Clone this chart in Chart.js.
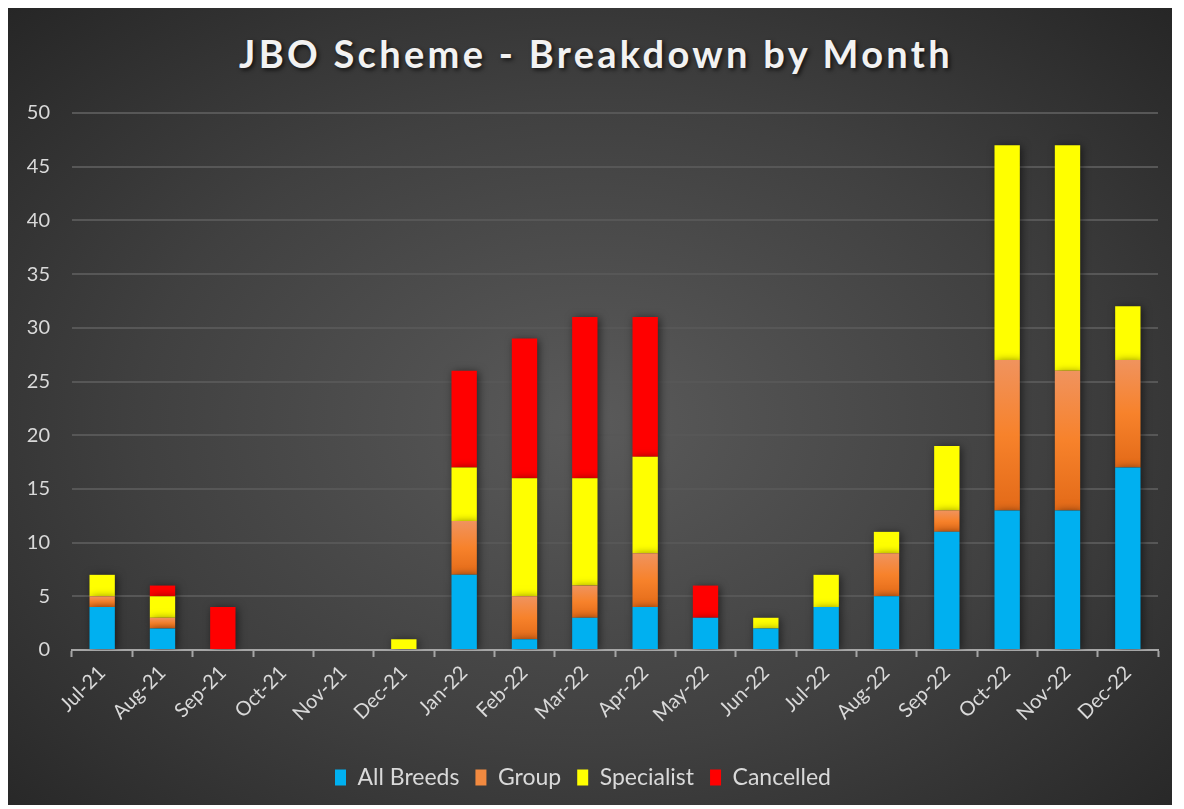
<!DOCTYPE html>
<html lang="en">
<head>
  <meta charset="UTF-8" />
  <title>JBO Scheme - Breakdown by Month</title>
  <script src="https://cdn.jsdelivr.net/npm/chart.js"></script>
  <style>
    body {
      margin: 0;
      background: #ffffff;
      font-family: Lato, 'Open Sans', sans-serif;
    }

    .card {
      position: absolute;
      left: 8px;
      top: 8px;
      width: 1164px;
      height: 797px;
      background: radial-gradient(ellipse at 50% 52%, #5a5a5a 0%, #404040 55%, #262626 100%);
    }

    .card h1 {
      position: absolute;
      left: 12px;
      right: 0;
      top: 22px;
      margin: 0;
      text-align: center;
      font-family: Lato, sans-serif;
      font-weight: bold;
      font-size: 38px;
      letter-spacing: 3.3px;
      color: #f2f2f2;
      text-shadow: 2px 2px 4px rgba(0, 0, 0, 0.7);
    }

    canvas {
      position: absolute;
      left: 0;
      top: 0;
    }
  </style>
</head>
<body>
  <div class="card">
    <h1>JBO Scheme - Breakdown by Month</h1>
    <canvas id="jboChart" width="1164" height="797"></canvas>
  </div>

  <script>
    const months = ['Jul-21', 'Aug-21', 'Sep-21', 'Oct-21', 'Nov-21', 'Dec-21',
      'Jan-22', 'Feb-22', 'Mar-22', 'Apr-22', 'May-22', 'Jun-22',
      'Jul-22', 'Aug-22', 'Sep-22', 'Oct-22', 'Nov-22', 'Dec-22'];
    const allBreeds  = [4, 2, 0, 0, 0, 0, 7, 1, 3, 4, 3, 2, 4, 5, 11, 13, 13, 17];
    const group      = [1, 1, 0, 0, 0, 0, 5, 4, 3, 5, 0, 0, 0, 4, 2, 14, 13, 10];
    const specialist = [2, 2, 0, 0, 0, 1, 5, 11, 10, 9, 0, 1, 3, 2, 6, 20, 21, 5];
    const cancelled  = [0, 1, 4, 0, 0, 0, 9, 13, 15, 13, 3, 0, 0, 0, 0, 0, 0, 0];

    // orange bars get a vertical gradient, light at the top
    function groupFill(ctx) {
      const chart = ctx.chart;
      if (ctx.type !== 'data' || !chart.chartArea) return '#f5822a';
      const y = chart.scales.y;
      const i = ctx.dataIndex;
      const top = y.getPixelForValue(allBreeds[i] + group[i]);
      const bottom = y.getPixelForValue(allBreeds[i]);
      if (!isFinite(top) || top === bottom) return '#f5822a';
      const g = chart.ctx.createLinearGradient(0, top, 0, bottom);
      g.addColorStop(0, '#f0935e');
      g.addColorStop(0.5, '#f7822b');
      g.addColorStop(1, '#e36a18');
      return g;
    }

    const barShadow = {
      id: 'barShadow',
      beforeDatasetsDraw(chart) {
        const c = chart.ctx;
        c.save();
        c.shadowColor = 'rgba(0, 0, 0, 0.55)';
        c.shadowBlur = 8;
        c.shadowOffsetX = 2;
        c.shadowOffsetY = 1;
      },
      afterDatasetsDraw(chart) {
        chart.ctx.restore();
      }
    };

    const common = { barPercentage: 0.42, categoryPercentage: 1, borderWidth: 0 };

    new Chart(document.getElementById('jboChart'), {
      type: 'bar',
      data: {
        labels: months,
        datasets: [
          { label: 'All Breeds', data: allBreeds, backgroundColor: '#00b0f0', ...common },
          { label: 'Group', data: group, backgroundColor: groupFill, ...common },
          { label: 'Specialist', data: specialist, backgroundColor: '#ffff00', ...common },
          { label: 'Cancelled', data: cancelled, backgroundColor: '#ff0000', ...common }
        ]
      },
      options: {
        responsive: false,
        animation: false,
        layout: { padding: { top: 105, right: 14, left: 0, bottom: 6 } },
        scales: {
          x: {
            stacked: true,
            grid: {
              offset: true,
              drawOnChartArea: false,
              drawTicks: true,
              tickLength: 7,
              tickWidth: 2,
              tickColor: '#a6a6a6'
            },
            border: { color: '#a6a6a6', width: 2 },
            ticks: {
              color: '#d9d9d9',
              font: { family: 'Lato', size: 20 },
              minRotation: 45,
              maxRotation: 45,
              padding: 4
            },
            afterFit(scale) { scale.height = 100; }
          },
          y: {
            stacked: true,
            min: 0,
            max: 50,
            ticks: {
              stepSize: 5,
              color: '#d9d9d9',
              font: { family: 'Lato', size: 20 },
              padding: 22
            },
            grid: { color: '#575757', lineWidth: 2, drawTicks: false },
            border: { display: false },
            afterFit(scale) { scale.width = 64; }
          }
        },
        plugins: {
          legend: {
            position: 'bottom',
            labels: {
              color: '#d9d9d9',
              font: { family: 'Lato', size: 23 },
              boxWidth: 11,
              boxHeight: 16,
              padding: 16,
              generateLabels(chart) {
                return chart.data.datasets.map((ds, i) => ({
                  text: ds.label,
                  fillStyle: i === 1 ? '#f28a40' : ds.backgroundColor,
                  strokeStyle: 'transparent',
                  lineWidth: 0,
                  fontColor: '#d9d9d9',
                  datasetIndex: i
                }));
              }
            }
          },
          tooltip: { enabled: false }
        }
      },
      plugins: [barShadow]
    });
  </script>
</body>
</html>
